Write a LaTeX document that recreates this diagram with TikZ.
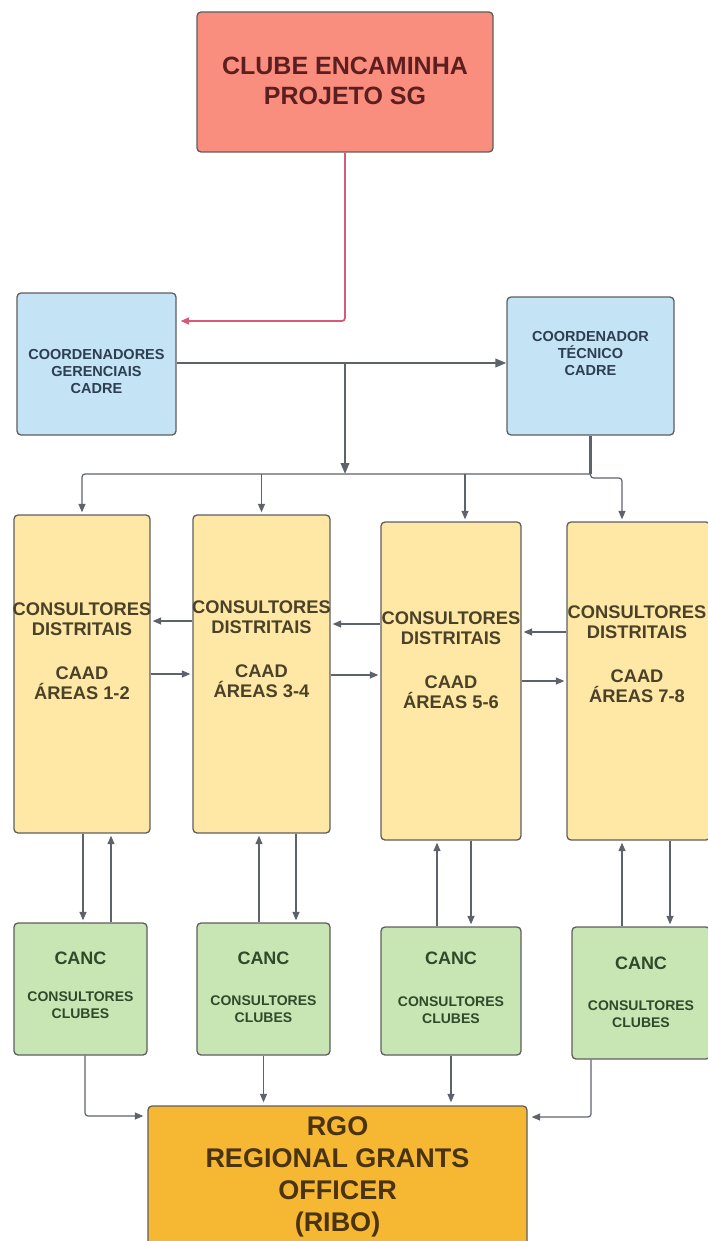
\documentclass[tikz,border=0pt]{standalone}
\usepackage{fontspec}
\setmainfont{Liberation Sans}
\usepackage{xcolor}
\usetikzlibrary{arrows.meta,positioning,calc}

\definecolor{clubfill}{HTML}{FA8E7E}
\definecolor{bluefill}{HTML}{C4E3F4}
\definecolor{yelfill}{HTML}{FFE8A6}
\definecolor{grnfill}{HTML}{C8E6B4}
\definecolor{rgofill}{HTML}{F6B832}
\definecolor{boxline}{HTML}{5E5E5E}
\definecolor{linegray}{HTML}{5E636B}
\definecolor{redline}{HTML}{D45A7A}
\definecolor{clubtext}{HTML}{5C1E1E}
\definecolor{bluetext}{HTML}{2C3E50}
\definecolor{yeltext}{HTML}{4A4228}
\definecolor{grntext}{HTML}{2F4A2B}
\definecolor{rgotext}{HTML}{4A3311}

\begin{document}
\begin{tikzpicture}[x=1pt,y=-1pt,
  box/.style={draw=boxline,line width=1.3pt,rounded corners=4pt,inner sep=0pt},
  lbl/.style={align=center,inner sep=0pt,font=\bfseries},
  conn/.style={draw=linegray,line width=1.2pt,rounded corners=3pt,shorten >=2pt,-{Triangle[length=8.5pt,width=7pt]}},
  thickconn/.style={draw=linegray,line width=2.2pt,-{Triangle[length=11pt,width=8.5pt]}}]
\useasboundingbox (0,0) rectangle (708,1241);
% boxes
\node[box,fill=clubfill,minimum width=296,minimum height=140] (club) at (345,82) {};
\node[box,fill=bluefill,minimum width=159,minimum height=142] (cg) at (96.5,364) {};
\node[box,fill=bluefill,minimum width=167,minimum height=138] (ct) at (590.5,366) {};
\node[box,fill=yelfill,minimum width=136,minimum height=318] (y1) at (82,674) {};
\node[box,fill=yelfill,minimum width=137,minimum height=318] (y2) at (261.5,674) {};
\node[box,fill=yelfill,minimum width=140,minimum height=318] (y3) at (451,681) {};
\node[box,fill=yelfill,minimum width=143,minimum height=318] (y4) at (638.5,681) {};
\node[box,fill=grnfill,minimum width=133,minimum height=132] (g1) at (80.5,989) {};
\node[box,fill=grnfill,minimum width=133,minimum height=132] (g2) at (263.5,989) {};
\node[box,fill=grnfill,minimum width=140,minimum height=128] (g3) at (451,991) {};
\node[box,fill=grnfill,minimum width=138,minimum height=132] (g4) at (641,993) {};
\node[box,fill=rgofill,minimum width=379,minimum height=146] (rgo) at (337.5,1179) {};
% texts
\node[lbl,text=clubtext,font=\bfseries\fontsize{25}{30}\selectfont] (clubtxt) at (345,81) {CLUBE ENCAMINHA\\PROJETO SG};
\node[lbl,text=bluetext,font=\bfseries\fontsize{14.5}{17}\selectfont] (cgtxt) at (96.5,372) {COORDENADORES\\GERENCIAIS\\CADRE};
\node[lbl,text=bluetext,font=\bfseries\fontsize{14.5}{17}\selectfont] (cttxt) at (590.5,354) {COORDENADOR\\TÉCNICO\\CADRE};
\node[lbl,text=yeltext,font=\bfseries\fontsize{18.3}{20}\selectfont] (y1txt) at (82,651) {CONSULTORES\\DISTRITAIS\\[24pt]CAAD\\ÁREAS 1-2};
\node[lbl,text=yeltext,font=\bfseries\fontsize{18.3}{20}\selectfont] (y2txt) at (261.5,649) {CONSULTORES\\DISTRITAIS\\[24pt]CAAD\\ÁREAS 3-4};
\node[lbl,text=yeltext,font=\bfseries\fontsize{18.3}{20}\selectfont] (y3txt) at (451,660) {CONSULTORES\\DISTRITAIS\\[24pt]CAAD\\ÁREAS 5-6};
\node[lbl,text=yeltext,font=\bfseries\fontsize{18.3}{20}\selectfont] (y4txt) at (637,654) {CONSULTORES\\DISTRITAIS\\[24pt]CAAD\\ÁREAS 7-8};
\node[lbl,text=grntext,font=\bfseries\fontsize{18}{20}\selectfont] (g1canc) at (80.5,958) {CANC};
\node[lbl,text=grntext,font=\bfseries\fontsize{14}{17}\selectfont] (g1cons) at (80.5,1005.5) {CONSULTORES\\CLUBES};
\node[lbl,text=grntext,font=\bfseries\fontsize{18}{20}\selectfont] (g2canc) at (263.5,958) {CANC};
\node[lbl,text=grntext,font=\bfseries\fontsize{14}{17}\selectfont] (g2cons) at (263.5,1009.5) {CONSULTORES\\CLUBES};
\node[lbl,text=grntext,font=\bfseries\fontsize{18}{20}\selectfont] (g3canc) at (451,958) {CANC};
\node[lbl,text=grntext,font=\bfseries\fontsize{14}{17}\selectfont] (g3cons) at (451,1010.5) {CONSULTORES\\CLUBES};
\node[lbl,text=grntext,font=\bfseries\fontsize{18}{20}\selectfont] (g4canc) at (641,963) {CANC};
\node[lbl,text=grntext,font=\bfseries\fontsize{14}{17}\selectfont] (g4cons) at (641,1014) {CONSULTORES\\CLUBES};
\node[lbl,text=rgotext,font=\bfseries\fontsize{27}{32}\selectfont] (rgotxt) at (337.5,1177) {RGO\\REGIONAL GRANTS\\OFFICER\\(RIBO)};
% top connectors
\coordinate (jn) at (345,363);
\coordinate (dist) at (345,474);
\draw[conn,draw=redline,line width=1.8pt,shorten >=4pt] (club.south) |- (cg.east |- 0,321);
\draw[thickconn] (cg.east |- 0,363) -- (ct.west |- 0,363);
\draw[thickconn] (jn) -- (dist);
\draw[draw=linegray,line width=2.2pt] (ct.south) -- (ct.south |- dist);
\draw[conn] (ct.south |- dist) -| (y1.north);
\draw[conn] (y2.north |- dist) -- (y2.north);
\draw[conn] (dist -| 465,0) -- (y3.north -| 465,0);
\draw[conn] (ct.south |- dist) -- ++(0,4) -| (y4.north -| 622,0);
% between districts
\draw[conn] (y2.west |- 0,621) -- (y1.east |- 0,621);
\draw[conn] (y1.east) -- (y2.west);
\draw[conn] (y3.west |- 0,624) -- (y2.east |- 0,624);
\draw[conn] (y2.east |- 0,675) -- (y3.west |- 0,675);
\draw[conn] (y4.west |- 0,632) -- (y3.east |- 0,632);
\draw[conn] (y3.east) -- (y4.west);
% districts and clubs
\draw[conn] (y1.south -| 83,0) -- (g1.north -| 83,0);
\draw[conn] (g1.north -| 111,0) -- (y1.south -| 111,0);
\draw[conn] (g2.north -| 259,0) -- (y2.south -| 259,0);
\draw[conn] (y2.south -| 296,0) -- (g2.north -| 296,0);
\draw[conn] (g3.north -| 437,0) -- (y3.south -| 437,0);
\draw[conn] (y3.south -| 471,0) -- (g3.north -| 471,0);
\draw[conn] (g4.north -| 622,0) -- (y4.south -| 622,0);
\draw[conn] (y4.south -| 670,0) -- (g4.north -| 670,0);
% clubs to RGO
\draw[conn,shorten >=4pt] (g1.south -| 85,0) |- (rgo.west |- 0,1116);
\draw[conn,shorten >=3pt] (g2.south) -- (rgo.north -| g2.south);
\draw[conn,shorten >=3pt] (g3.south) -- (rgo.north -| g3.south);
\draw[conn,shorten >=4pt] (g4.south -| 591,0) |- (rgo.east |- 0,1117);
\end{tikzpicture}
\end{document}
